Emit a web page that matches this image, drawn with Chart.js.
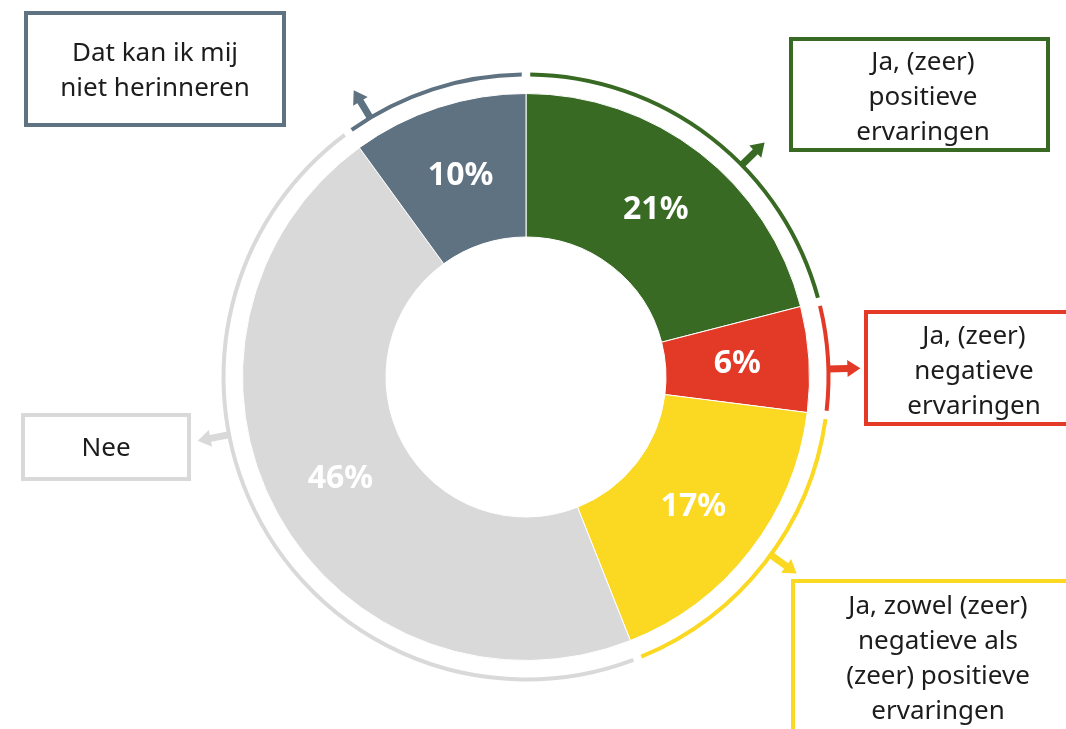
<!DOCTYPE html>
<html lang="nl">
<head>
    <meta charset="UTF-8">
    <title>Ervaringen</title>
    <script src="https://cdn.jsdelivr.net/npm/chart.js"></script>
    <style>
        body {
            margin: 0;
            background: #ffffff;
            font-family: 'Noto Sans', sans-serif;
        }
        #wrap {
            width: 1066px;
            height: 729px;
            position: relative;
        }
    </style>
</head>
<body>
    <div id="wrap">
        <canvas id="donut" width="1066" height="729"></canvas>
    </div>

    <script>
        // data
        const categories = [
            "Ja, (zeer) positieve ervaringen",
            "Ja, (zeer) negatieve ervaringen",
            "Ja, zowel (zeer) negatieve als (zeer) positieve ervaringen",
            "Nee",
            "Dat kan ik mij niet herinneren"
        ];
        const percentages = [21, 6, 17, 46, 10];

        // label text as it is broken in the boxes
        const boxLines = [
            ["Ja, (zeer)", "positieve", "ervaringen"],
            ["Ja, (zeer)", "negatieve", "ervaringen"],
            ["Ja, zowel (zeer)", "negatieve als", "(zeer) positieve", "ervaringen"],
            ["Nee"],
            ["Dat kan ik mij", "niet herinneren"]
        ];

        // styling
        const colors = ["#386a24", "#e23a26", "#fbd821", "#d9d9d9", "#5f7282"];
        // box: x, y, w, h  /  text centre x, first line centre y
        const boxes = [
            { x: 791, y: 39, w: 257, h: 111, tx: 923, ty: 63 },
            { x: 866, y: 312, w: 220, h: 112, tx: 974, ty: 337 },
            { x: 793, y: 581, w: 300, h: 200, tx: 938, ty: 607 },
            { x: 23, y: 415, w: 166, h: 64, tx: 106, ty: 449 },
            { x: 26, y: 13, w: 258, h: 112, tx: 155, ty: 54 }
        ];
        const lineHeight = 35;
        // arrow direction in degrees, clockwise from 12 o'clock
        const arrowAngles = [45.5, 88.5, 126, 259, 329];

        const decorPlugin = {
            id: "decor",
            afterDatasetsDraw(chart) {
                const ctx = chart.ctx;
                const meta = chart.getDatasetMeta(0);
                const ringR = meta.data[0].outerRadius + 19;
                const gap = 0.014;

                meta.data.forEach((arc, i) => {
                    const p = arc.getProps(["x", "y", "startAngle", "endAngle"], true);

                    // thin outer arc
                    ctx.save();
                    ctx.strokeStyle = colors[i];
                    ctx.lineWidth = 4;
                    ctx.beginPath();
                    ctx.arc(p.x, p.y, ringR, p.startAngle + gap, p.endAngle - gap);
                    ctx.stroke();
                    ctx.restore();

                    // arrow
                    const a = (arrowAngles[i] - 90) * Math.PI / 180;
                    const r1 = ringR, r2 = ringR + 32, head = 13;
                    ctx.save();
                    ctx.translate(p.x, p.y);
                    ctx.rotate(a);
                    ctx.fillStyle = colors[i];
                    ctx.beginPath();
                    ctx.moveTo(r1, -3.5);
                    ctx.lineTo(r2 - head, -3.5);
                    ctx.lineTo(r2 - head, -8.5);
                    ctx.lineTo(r2, 0);
                    ctx.lineTo(r2 - head, 8.5);
                    ctx.lineTo(r2 - head, 3.5);
                    ctx.lineTo(r1, 3.5);
                    ctx.closePath();
                    ctx.fill();
                    ctx.restore();

                    // percentage in the segment
                    const pos = arc.tooltipPosition();
                    ctx.save();
                    ctx.fillStyle = "#ffffff";
                    ctx.font = "bold 32px 'Noto Sans'";
                    ctx.textAlign = "center";
                    ctx.textBaseline = "middle";
                    ctx.fillText(percentages[i] + "%", pos.x, pos.y);
                    ctx.restore();

                    // label box
                    const b = boxes[i];
                    ctx.save();
                    ctx.strokeStyle = colors[i];
                    ctx.lineWidth = 4;
                    ctx.strokeRect(b.x, b.y, b.w, b.h);
                    ctx.fillStyle = "#1c1c1c";
                    ctx.font = "26px 'Noto Sans'";
                    ctx.textAlign = "center";
                    ctx.textBaseline = "middle";
                    boxLines[i].forEach((line, k) => {
                        ctx.fillText(line, b.tx, b.ty + k * lineHeight);
                    });
                    ctx.restore();
                });
            }
        };

        new Chart(document.getElementById("donut"), {
            type: "doughnut",
            data: {
                labels: categories,
                datasets: [{
                    data: percentages,
                    backgroundColor: colors,
                    borderColor: "#ffffff",
                    borderWidth: 1,
                    hoverOffset: 0
                }]
            },
            options: {
                responsive: false,
                animation: false,
                devicePixelRatio: 1,
                cutout: 140,
                layout: {
                    padding: { left: 242, right: 256, top: 93, bottom: 68 }
                },
                plugins: {
                    legend: { display: false },
                    tooltip: { enabled: false }
                }
            },
            plugins: [decorPlugin]
        });
    </script>
</body>
</html>
